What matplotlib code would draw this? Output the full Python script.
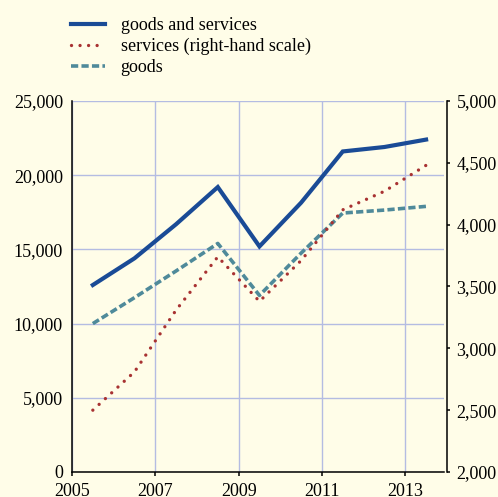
import matplotlib
matplotlib.use("Agg")
import matplotlib.pyplot as plt
from matplotlib.ticker import FuncFormatter

years = [2005.5, 2006.5, 2007.5, 2008.5, 2009.5, 2010.5, 2011.5, 2012.5, 2013.5]
goods_and_services = [12600, 14400, 16700, 19200, 15200, 18150, 21600, 21900, 22400]
goods = [10000, 11750, 13550, 15400, 11900, 14750, 17450, 17650, 17900]
services = [2500, 2810, 3310, 3740, 3380, 3710, 4120, 4270, 4480]

x_ticks = [2005, 2007, 2009, 2011, 2013]
left_ticks = [0, 5000, 10000, 15000, 20000, 25000]
right_ticks = [2000, 2500, 3000, 3500, 4000, 4500, 5000]

BG = "#FFFDE8"
BLUE = "#1A4B96"
RED = "#A83232"
TEAL = "#4F8A9A"
GRID = "#B4BCE2"

plt.rcParams['font.family'] = ['Liberation Serif', 'DejaVu Serif']
plt.rcParams['font.size'] = 13

fig = plt.figure(figsize=(4.98, 4.97), dpi=100, facecolor=BG)
W, H = 498, 497
ax = fig.add_axes([72 / W, 25 / H, (444 - 72) / W, (472 - 101) / H])
ax.set_facecolor(BG)
ax2 = ax.twinx()

fmt = FuncFormatter(lambda v, p: f"{int(v):,}")

l1, = ax.plot(years, goods_and_services, color=BLUE, lw=3.0, solid_joinstyle='miter', zorder=4)
l3, = ax.plot(years, goods, color=TEAL, lw=2.6, linestyle=(0, (2.0, 0.9)), dash_capstyle='butt', zorder=3)
l2, = ax2.plot(years, services, color=RED, lw=2.4, linestyle=(0, (0.01, 2.55)), dash_capstyle='round', zorder=3)

ax.set_xlim(2005, 2013.93)
ax.set_ylim(0, 25000)
ax2.set_ylim(2000, 5000)
ax.set_xticks(x_ticks)
ax.set_yticks(left_ticks)
ax2.set_yticks(right_ticks)
ax.yaxis.set_major_formatter(fmt)
ax2.yaxis.set_major_formatter(fmt)

ax.grid(True, color=GRID, lw=1.0)
ax.set_axisbelow(True)

for a in (ax, ax2):
    for s in ('top', 'left', 'right', 'bottom'):
        a.spines[s].set_visible(False)
ax.spines['left'].set_visible(True)
ax.spines['bottom'].set_visible(True)
ax.spines['left'].set_color('black')
ax.spines['bottom'].set_color('black')
ax.spines['left'].set_linewidth(1.1)
ax.spines['bottom'].set_linewidth(1.1)
ax2.spines['right'].set_visible(True)
ax2.spines['right'].set_position(('outward', 2.5))
ax2.spines['right'].set_linewidth(1.1)

ax.tick_params(axis='y', length=0, pad=6.5, labelsize=13)
ax.tick_params(axis='x', direction='out', length=3, width=1.1, pad=5, labelsize=13)
ax2.tick_params(axis='y', direction='out', length=2.5, width=1.1, pad=4, labelsize=13)

leg = fig.legend([l1, l2, l3],
                 ["goods and services", "services (right-hand scale)", "goods"],
                 loc='upper left', bbox_to_anchor=(71 / W, 1 - 17 / H),
                 frameon=False, fontsize=13, handlelength=1.9,
                 handletextpad=0.85, labelspacing=0.22, borderpad=0,
                 borderaxespad=0)

fig.savefig("out.png", dpi=100, facecolor=BG)
